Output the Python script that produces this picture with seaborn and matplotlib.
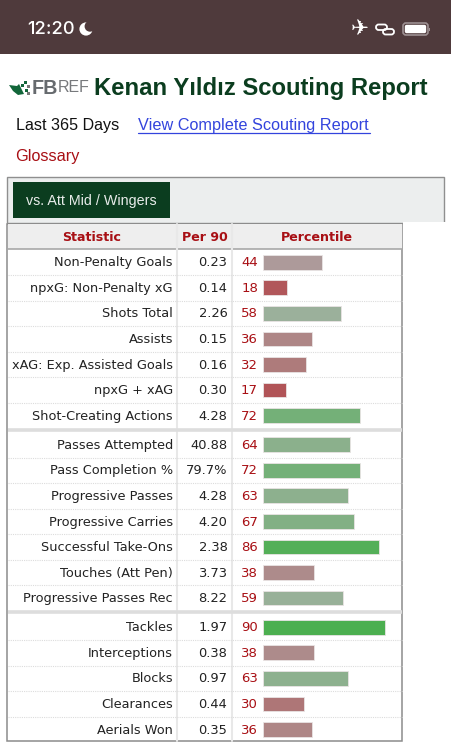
import matplotlib
matplotlib.use("Agg")
import matplotlib.pyplot as plt
from matplotlib import font_manager
from matplotlib.colors import LinearSegmentedColormap
from matplotlib.patches import Circle, FancyBboxPatch, Polygon, Rectangle
import pandas as pd
import seaborn as sns

sns.set_theme(style="white")

W, H = 452, 750

attacking_stats = ["Non-Penalty Goals", "npxG: Non-Penalty xG", "Shots Total", "Assists",
                   "xAG: Exp. Assisted Goals", "npxG + xAG", "Shot-Creating Actions"]
attacking_per90 = ["0.23", "0.14", "2.26", "0.15", "0.16", "0.30", "4.28"]
attacking_pct = [44, 18, 58, 36, 32, 17, 72]

passing_stats = ["Passes Attempted", "Pass Completion %", "Progressive Passes", "Progressive Carries",
                 "Successful Take-Ons", "Touches (Att Pen)", "Progressive Passes Rec"]
passing_per90 = ["40.88", "79.7%", "4.28", "4.20", "2.38", "3.73", "8.22"]
passing_pct = [64, 72, 63, 67, 86, 38, 59]

defending_stats = ["Tackles", "Interceptions", "Blocks", "Clearances", "Aerials Won"]
defending_per90 = ["1.97", "0.38", "0.97", "0.44", "0.35"]
defending_pct = [90, 38, 63, 30, 36]

groups = [
    (attacking_stats, attacking_per90, attacking_pct, 249.5),
    (passing_stats, passing_per90, passing_pct, 432.0),
    (defending_stats, defending_per90, defending_pct, 614.5),
]

ROW = 25.55
BAR_LEFT, BAR_SPAN = 263, 135.2
RED = "#a80f14"
DARK_GREEN = "#0b3d1f"
BROWN = "#4f3a3c"

installed = {f.name for f in font_manager.fontManager.ttflist}
NARROW = "Liberation Sans Narrow" if "Liberation Sans Narrow" in installed else "Liberation Sans"
REF_SIZE = 14 if NARROW != "Liberation Sans" else 11.5

pct_cmap = LinearSegmentedColormap.from_list(
    "percentile",
    [(0.0, "#b2343a"), (0.17, "#b15457"), (0.30, "#ae7777"), (0.44, "#ad9a9a"),
     (0.58, "#9bb09b"), (0.72, "#74b078"), (0.90, "#4caf50"), (1.0, "#3aaf45")],
)

fig = plt.figure(figsize=(W / 100, H / 100), dpi=100, facecolor="white")
page = fig.add_axes([0, 0, 1, 1])
page.set_xlim(0, W)
page.set_ylim(H, 0)
page.axis("off")

# Status bar
page.add_patch(Rectangle((0, 0), W, 54, color=BROWN, lw=0))
page.text(27, 29.5, "12:20", color="white", fontsize=13.2, family="Inter", va="center", ha="left", weight="medium")
page.add_patch(Circle((86, 29), 6.6, color="white", lw=0))
page.add_patch(Circle((90, 26.3), 5.4, color=BROWN, lw=0))
page.text(360, 29, "\u2708", color="white", fontsize=15.5, family="DejaVu Sans", ha="center", va="center")
for x0, y0 in [(376, 24.5), (383, 29)]:
    page.add_patch(FancyBboxPatch((x0, y0), 11, 5.5, boxstyle="round,pad=0,rounding_size=2.7",
                                  fc="none", ec="white", lw=1.3))
page.add_patch(FancyBboxPatch((403, 23), 25, 12, boxstyle="round,pad=0,rounding_size=3",
                              fc="none", ec="#9d9092", lw=1.2))
page.add_patch(FancyBboxPatch((404.8, 24.8), 21.4, 8.4, boxstyle="round,pad=0,rounding_size=1.8",
                              fc="white", ec="none"))
page.add_patch(Rectangle((429.3, 27.5), 1.2, 3.5, color="#9d9092", lw=0))

# Site logo and page heading
LOGO_GREEN = "#12663a"
page.add_patch(Polygon([(9, 85), (17, 86), (19, 84), (21, 88), (24, 94), (18, 95), (13, 91)], color=LOGO_GREEN, lw=0))
for x0, y0, c in [(21, 84, LOGO_GREEN), (24, 81, LOGO_GREEN), (27, 85, "#777777"), (25, 89, LOGO_GREEN), (27, 92, "#777777")]:
    page.add_patch(Rectangle((x0, y0), 3.2, 3.2, color=c, lw=0))
page.text(32, 88, "FB", color="#666a6e", fontsize=14.2, family="Liberation Sans", weight="bold", ha="left", va="center")
page.text(57.5, 88, "REF", color="#77797c", fontsize=REF_SIZE, family=NARROW, ha="left", va="center")
page.text(94, 88, "Kenan Yıldız Scouting Report", color=DARK_GREEN, fontsize=17.2,
          family="Liberation Sans", weight="bold", ha="left", va="center")

page.text(16, 125.5, "Last 365 Days", color="#111111", fontsize=11.65, family="Liberation Sans", ha="left", va="center")
page.text(138, 125.5, "View Complete Scouting Report", color="#3344dd", fontsize=11.7,
          family="Liberation Sans", ha="left", va="center")
page.plot([138, 370], [132.8, 132.8], color="#3344dd", lw=0.9)
page.text(15.5, 157, "Glossary", color=RED, fontsize=11.7, family="Liberation Sans", ha="left", va="center")

# Tab strip
page.add_patch(Rectangle((7.5, 177), 437, 46, fc="#eceeee", ec="#8f8f8f", lw=1))
page.add_patch(Rectangle((13, 182), 157, 36, fc=DARK_GREEN, ec="none"))
page.text(91.5, 200.5, "vs. Att Mid / Wingers", color="#e8ecea", fontsize=10.25,
          family="Liberation Sans", ha="center", va="center")
page.add_patch(Rectangle((403, 222.4), 45, 6, fc="white", ec="none", zorder=2))

# Table frame and header
page.add_patch(Rectangle((7.5, 223.5), 395, 517.5, fc="white", ec="#8c8c8c", lw=1.1, zorder=2))
page.add_patch(Rectangle((8, 224), 394, 24.5, fc="#eeeeee", ec="none", zorder=2))
page.plot([8, 402], [249, 249], color="#a8a8a8", lw=1.2, zorder=3)
for sep in (177.5, 232):
    page.plot([sep, sep], [224, 740.5], color="#e8e8e8", lw=1.5, zorder=3)
for x, label in [(92, "Statistic"), (204.5, "Per 90"), (317, "Percentile")]:
    page.text(x, 237.6, label, color=RED, fontsize=9.1, family="DejaVu Sans", weight="bold",
              ha="center", va="center", zorder=5)

# One block of rows per statistic family
for stats, per90, pct, top in groups:
    n = len(stats)
    bottom = top + n * ROW
    frame = pd.DataFrame({"stat": stats, "pct": pct})
    ax = fig.add_axes([BAR_LEFT / W, 1 - bottom / H, BAR_SPAN / W, (bottom - top) / H], facecolor="none", zorder=4)
    sns.barplot(data=frame, x="pct", y="stat", hue="stat", order=stats, hue_order=stats,
                palette=[pct_cmap(v / 100) for v in pct], dodge=False, legend=False,
                width=0.58, saturation=1, ax=ax, edgecolor="#e9e4e4", linewidth=0.6)
    ax.set_xlim(0, 100)
    ax.set_ylim(n - 0.5, -0.5)
    ax.axis("off")
    for i in range(n):
        y = top + (i + 0.5) * ROW + 0.6
        page.text(173, y, stats[i], color="#222222", fontsize=9.27, family="DejaVu Sans",
                  ha="right", va="center", zorder=5)
        page.text(227.5, y, per90[i], color="#222222", fontsize=9.35, family="DejaVu Sans",
                  ha="right", va="center", zorder=5)
        page.text(258, y, str(pct[i]), color=RED, fontsize=9.5, family="DejaVu Sans",
                  ha="right", va="center", zorder=5)
        if i < n - 1:
            page.plot([8, 402], [top + (i + 1) * ROW] * 2, color="#dcdcdc", lw=0.8, ls=(0, (1, 1)), zorder=3)

for y in (429.5, 611.8):
    page.plot([8, 402], [y, y], color="#dddddd", lw=2.6, zorder=3, solid_capstyle="butt")

fig.savefig("out.png", dpi=100, facecolor="white")
